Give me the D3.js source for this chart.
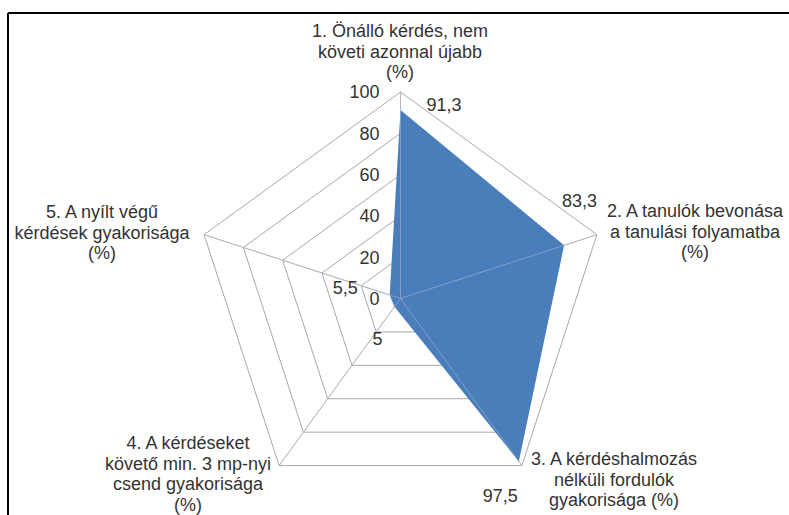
<!DOCTYPE html>
<html>
<head>
<meta charset="utf-8">
<script src="https://cdn.jsdelivr.net/npm/d3@7"></script>
<style>
body { margin: 0; background: #fff; }
text { font-family: "Liberation Sans", Arial, sans-serif; fill: #333; }
</style>
</head>
<body>
<script>
var width = 789,
    height = 515;

// axis labels (each line separately)
var axisLabels = [
    ["1. Önálló kérdés, nem", "követi azonnal újabb", "(%)"],
    ["2. A tanulók bevonása", "a tanulási folyamatba", "(%)"],
    ["3. A kérdéshalmozás", "nélküli fordulók", "gyakorisága (%)"],
    ["4. A kérdéseket", "követő min. 3 mp-nyi", "csend gyakorisága", "(%)"],
    ["5. A nyílt végű", "kérdések gyakorisága", "(%)"]
];
var values = [91.3, 83.3, 97.5, 5, 5.5];
var valueLabels = ["91,3", "83,3", "97,5", "5", "5,5"];
var ticks = [0, 20, 40, 60, 80, 100];

var cx = 400.5, cy = 298.5;
var svg = d3.select("body").append("svg").attr("width", width).attr("height", height);

// frame (only top and left edge are visible in the picture)
svg.append("line").attr("x1", 8).attr("y1", 13).attr("x2", width).attr("y2", 13)
    .attr("stroke", "#000").attr("stroke-width", 2);
svg.append("line").attr("x1", 8).attr("y1", 13).attr("x2", 8).attr("y2", height)
    .attr("stroke", "#000").attr("stroke-width", 2);

var r = d3.scaleLinear().domain([0, 100]).range([0, 206.5]);
var angle = d3.scalePoint().domain(d3.range(5)).range([0, 2 * Math.PI * 4 / 5]);

function pt(i, v) {
    var a = angle(i);
    return [cx + r(v) * Math.sin(a), cy - r(v) * Math.cos(a)];
}

var g = svg.append("g");

// rings
ticks.slice(1).forEach(function (t) {
    g.append("polygon")
        .attr("points", d3.range(5).map(i => pt(i, t).join(",")).join(" "))
        .attr("fill", "none")
        .attr("stroke", "#a8a8a8")
        .attr("stroke-width", 1);
});

// spokes
g.selectAll("line.spoke").data(d3.range(5)).enter().append("line")
    .attr("class", "spoke")
    .attr("x1", cx).attr("y1", cy)
    .attr("x2", d => pt(d, 100)[0])
    .attr("y2", d => pt(d, 100)[1])
    .attr("stroke", "#a8a8a8");

// series area
g.append("polygon")
    .attr("points", values.map((v, i) => pt(i, v).join(",")).join(" "))
    .attr("fill", "#4a7ebb")
    .attr("stroke", "none");

// spokes show faintly through the fill
g.selectAll("line.spoke2").data(d3.range(5)).enter().append("line")
    .attr("x1", cx).attr("y1", cy)
    .attr("x2", d => pt(d, 100)[0])
    .attr("y2", d => pt(d, 100)[1])
    .attr("stroke", "#c0c8d4").attr("stroke-opacity", 0.45);

// tick labels along axis 1
g.selectAll("text.tick").data(ticks).enter().append("text")
    .attr("class", "tick")
    .attr("x", cx - 21)
    .attr("y", d => pt(0, d)[1])
    .attr("dy", "0.35em")
    .attr("text-anchor", "end")
    .style("font-size", "18px")
    .text(d => d);

// value labels, nudged from their points
var offs = [[26, 1], [-2, -38], [-36, 41], [-22, 38], [-57, -1]];
g.selectAll("text.val").data(values).enter().append("text")
    .attr("class", "val")
    .attr("x", (d, i) => pt(i, d)[0] + offs[i][0])
    .attr("y", (d, i) => pt(i, d)[1] + offs[i][1])
    .attr("text-anchor", "start")
    .style("font-size", "18px")
    .text((d, i) => valueLabels[i]);

// category labels
var labelPos = [[400, 37], [695, 217], [614, 465], [188, 449], [102, 218]];
axisLabels.forEach(function (lines, i) {
    var t = g.append("text")
        .attr("x", labelPos[i][0])
        .attr("y", labelPos[i][1])
        .attr("text-anchor", "middle")
        .style("font-size", "18px");
    lines.forEach(function (l, j) {
        t.append("tspan").attr("x", labelPos[i][0]).attr("dy", j == 0 ? 0 : 20.5).text(l);
    });
});
</script>
</body>
</html>
